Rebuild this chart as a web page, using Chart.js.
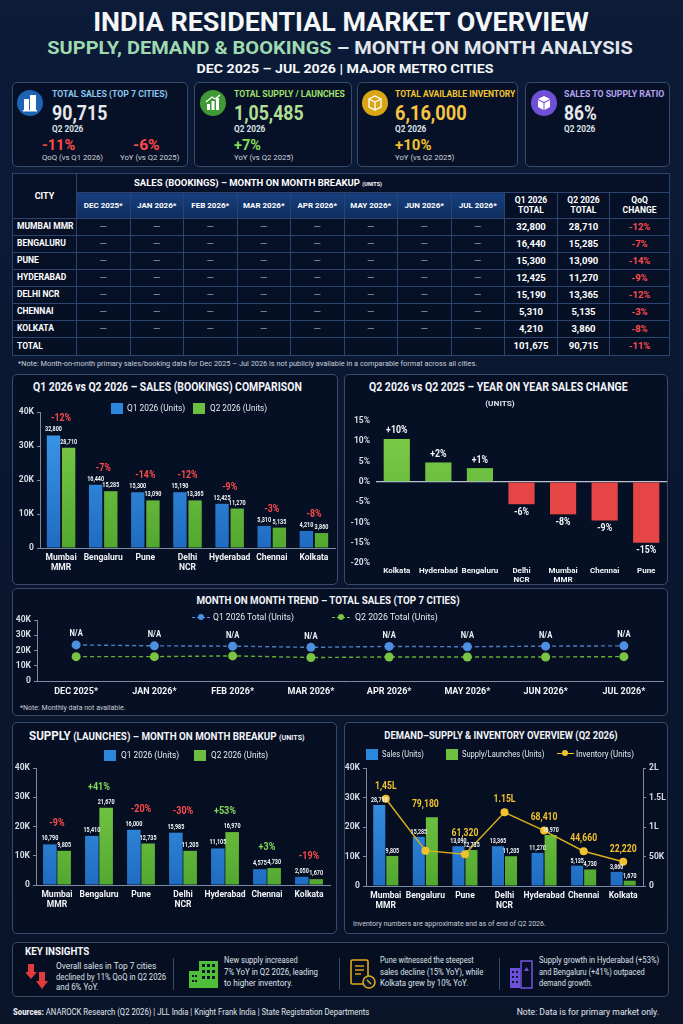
<!DOCTYPE html>
<html lang="en">
<head>
<meta charset="UTF-8">
<title>India Residential Market Overview</title>
<script src="https://cdn.jsdelivr.net/npm/chart.js"></script>
<style>
  body { margin:0; width:683px; height:1024px; position:relative; overflow:hidden;
         background:linear-gradient(180deg,#0b1b38 0%,#0a1730 50%,#091429 100%);
         font-family:Roboto,'DejaVu Sans Condensed',sans-serif; color:#fff; }
  .panel { position:absolute; border:1px solid #3a4a66; border-radius:5px; background:rgba(4,11,28,0.55); box-sizing:border-box; }
  .t { position:absolute; white-space:nowrap; line-height:1; z-index:3; }
  .box { position:absolute; z-index:2; }
  #tbl { position:absolute; left:12px; top:173px; width:657px; height:182px; border-collapse:collapse; table-layout:fixed; background:rgba(5,14,34,0.75); }
  #tbl td { border:1px solid #2e4470; color:#fff; font-weight:bold; font-size:9.5px; text-align:center; padding:0; line-height:1.15; white-space:nowrap; overflow:hidden; }
  #tbl td.city { text-align:left; padding-left:4px; font-size:8.5px; }
  #tbl td.mh { background:linear-gradient(180deg,#17407e,#0f2c5e); font-size:8px; }
  #tbl td.dash { color:#9aa4b5; font-weight:normal; }
  #tbl td.red { color:#ff4b4b; }
</style>
</head>
<body>
<script>
const FONT = "Roboto,'DejaVu Sans Condensed',sans-serif";
const BLUE = '#2b87dc', GREEN = '#6cbf3f', RED = '#e64545', RED_T = '#ff4a4a', GREEN_T = '#86d95a', GOLD = '#f2c12e', AX = '#7d8aa3';

// ---- data ----
const cities = [['Mumbai', 'MMR'], 'Bengaluru', 'Pune', ['Delhi', 'NCR'], 'Hyderabad', 'Chennai', 'Kolkata'];
const tableCities = ['MUMBAI MMR', 'BENGALURU', 'PUNE', 'HYDERABAD', 'DELHI NCR', 'CHENNAI', 'KOLKATA'];
const tableMonths = ['DEC 2025*', 'JAN 2026*', 'FEB 2026*', 'MAR 2026*', 'APR 2026*', 'MAY 2026*', 'JUN 2026*', 'JUL 2026*'];
const tableQ1 = ['32,800', '16,440', '15,300', '12,425', '15,190', '5,310', '4,210'];
const tableQ2 = ['28,710', '15,285', '13,090', '11,270', '13,365', '5,135', '3,860'];
const tableQoQ = ['-12%', '-7%', '-14%', '-9%', '-12%', '-3%', '-8%'];
const tableTotal = ['101,675', '90,715', '-11%'];

const salesQ1 = [33100, 18600, 16400, 16400, 13000, 6500, 5000];
const salesQ2 = [29500, 16700, 14000, 14000, 11600, 6000, 4400];
const salesQ1Label = ['32,800', '16,440', '15,300', '15,190', '12,425', '5,310', '4,210'];
const salesQ2Label = ['28,710', '15,285', '13,090', '13,365', '11,270', '5,135', '3,860'];
const salesQoQ = ['-12%', '-7%', '-14%', '-12%', '-9%', '-3%', '-8%'];

const yoyCities = ['Kolkata', 'Hyderabad', 'Bengaluru', ['Delhi', 'NCR'], ['Mumbai', 'MMR'], 'Chennai', 'Pune'];
const yoyChange = [10.6, 4.8, 3.4, -5.5, -8, -9.5, -15];
const yoyLabel = ['+10%', '+2%', '+1%', '-6%', '-8%', '-9%', '-15%'];

const months = ['DEC 2025*', 'JAN 2026*', 'FEB 2026*', 'MAR 2026*', 'APR 2026*', 'MAY 2026*', 'JUN 2026*', 'JUL 2026*'];
const trendQ1 = [23700, 23100, 22900, 22100, 22700, 22500, 22900, 23100];
const trendQ2 = [16000, 16000, 16500, 15400, 15800, 15800, 15800, 16000];

const supplyQ1 = [13900, 16800, 18900, 17900, 12500, 5400, 2800];
const supplyQ2 = [11700, 26400, 14200, 11700, 18100, 5800, 2000];
const supplyQ1Label = ['10,790', '15,410', '16,000', '15,985', '11,105', '4,575', '2,050'];
const supplyQ2Label = ['9,805', '21,670', '12,735', '11,205', '16,970', '4,730', '1,670'];
const supplyChange = ['-9%', '+41%', '-20%', '-30%', '+53%', '+3%', '-19%'];

const dsSales = [27500, 16700, 13500, 13500, 11250, 6900, 4800];
const dsSupply = [10200, 23300, 12200, 10100, 17300, 5600, 1800];
const dsSalesLabel = ['28,710', '15,285', '13,090', '13,365', '11,270', '5,135', '3,860'];
const dsSupplyLabel = ['9,805', '', '12,735', '11,205', '16,970', '4,730', '1,670'];
const inventory = [148000, 60000, 54000, 125000, 94000, 59000, 41000];
const inventoryLabel = ['1,45L', '79,180', '61,320', '1.15L', '68,410', '44,660', '22,220'];

// ---- helpers ----
function txt(x, y, html, size, color, o = {}) {
  const d = document.createElement('div');
  d.className = 't';
  d.innerHTML = html;
  d.style.left = x + 'px';
  d.style.top = y + 'px';
  d.style.fontSize = size + 'px';
  d.style.color = color;
  d.style.fontWeight = o.w || 'bold';
  const ax = o.a === 'c' ? '-50%' : o.a === 'r' ? '-100%' : '0';
  d.style.transform = `translate(${ax},-50%)`;
  document.body.appendChild(d);
  if (o.fit) {
    const r = o.fit / d.offsetWidth;
    d.style.transformOrigin = o.a === 'c' ? 'center' : o.a === 'r' ? 'right' : 'left';
    d.style.transform += ` scaleX(${r})`;
  }
  return d;
}
function panel(x1, y1, x2, y2) {
  const d = document.createElement('div');
  d.className = 'panel';
  d.style.cssText = `left:${x1}px;top:${y1}px;width:${x2 - x1}px;height:${y2 - y1}px`;
  document.body.appendChild(d);
}
function canvasBox(x1, y1, x2, y2) {
  const d = document.createElement('div');
  d.className = 'box';
  d.style.cssText += `left:${x1}px;top:${y1}px;width:${x2 - x1}px;height:${y2 - y1}px`;
  const c = document.createElement('canvas');
  d.appendChild(c);
  document.body.appendChild(d);
  return c;
}
function sq(x, y, color) {
  const d = document.createElement('div');
  d.style.cssText = `position:absolute;z-index:3;left:${x}px;top:${y - 5.5}px;width:12px;height:11px;background:${color}`;
  document.body.appendChild(d);
}
function lineKey(x, y, color) {
  const d = document.createElement('div');
  d.style.cssText = `position:absolute;z-index:3;left:${x}px;top:${y}px;width:18px;border-top:1.5px dashed ${color}`;
  const p = document.createElement('div');
  p.style.cssText = `position:absolute;left:6px;top:-4.5px;width:6px;height:6px;border-radius:50%;background:${color}`;
  d.appendChild(p);
  document.body.appendChild(d);
}
function icon(cx, cy, bg, svg) {
  const d = document.createElement('div');
  d.style.cssText = `position:absolute;z-index:3;left:${cx - 13}px;top:${cy - 13}px;width:26px;height:26px;border-radius:50%;background:${bg}`;
  d.innerHTML = `<svg width="26" height="26" viewBox="1 1 26 26">${svg}</svg>`;
  document.body.appendChild(d);
}
function art(x, y, w, h, svg) {
  const d = document.createElement('div');
  d.style.cssText = `position:absolute;z-index:3;left:${x}px;top:${y}px;width:${w}px;height:${h}px`;
  d.innerHTML = `<svg width="${w}" height="${h}" viewBox="0 0 ${w} ${h}">${svg}</svg>`;
  document.body.appendChild(d);
}
const kfmt = v => v === 0 ? '0' : (v / 1000) + 'K';
const signColor = t => t.startsWith('+') ? GREEN_T : RED_T;
function grad(top, bottom) {
  return c => {
    const a = c.chart.chartArea;
    if (!a) return bottom;
    const g = c.chart.ctx.createLinearGradient(0, a.top, 0, a.bottom);
    g.addColorStop(0, top);
    g.addColorStop(1, bottom);
    return g;
  };
}
const BLUE_G = grad('#3d9cec', '#1f6cc2');
const GREEN_G = grad('#80cf4b', '#52a82f');

// narrow text centred on a point
function squeezed(ctx, t, x, y, sx) {
  ctx.save();
  ctx.translate(x, y);
  ctx.scale(sx, 1);
  ctx.fillText(t, 0, 0);
  ctx.restore();
}
// labels drawn from element positions
const labelPlugin = {
  id: 'labels',
  afterDatasetsDraw(chart, args, o) {
    const ctx = chart.ctx;
    ctx.save();
    ctx.textAlign = 'center';
    ctx.textBaseline = 'middle';
    chart.data.datasets.forEach((ds, di) => {
      if (!ds.tags) return;
      const meta = chart.getDatasetMeta(di);
      ctx.font = `bold ${ds.tagSize || 8}px ${FONT}`;
      ctx.fillStyle = ds.tagColor || '#f2f4f8';
      meta.data.forEach((el, i) => {
        const t = ds.tags[i];
        if (!t) return;
        const g = ds.tagGap || 5;
        squeezed(ctx, t, el.x, ds.data[i] < 0 ? el.y + g : el.y - g, ds.tagScale || 0.68);
      });
    });
    if (o && o.texts) {
      ctx.font = `bold ${o.size}px ${FONT}`;
      o.texts.forEach((t, i) => {
        let top = Infinity;
        chart.data.datasets.forEach((ds, di) => {
          const el = chart.getDatasetMeta(di).data[i];
          if (el) top = Math.min(top, el.y);
        });
        ctx.fillStyle = typeof o.colors === 'function' ? o.colors(t) : o.colors;
        squeezed(ctx, t, chart.scales.x.getPixelForValue(i), top - o.gap, o.scale || 0.8);
      });
    }
    ctx.restore();
  }
};
Chart.register(labelPlugin);
Chart.defaults.font.family = FONT;
Chart.defaults.color = '#d7dce5';

function baseOptions(p) {
  return {
    responsive: true, maintainAspectRatio: false, animation: false,
    layout: { padding: { top: p.top, right: p.right, left: 0, bottom: 0 } },
    plugins: { legend: { display: false }, tooltip: { enabled: false }, labels: p.labels || {} },
    scales: {
      x: {
        offset: true,
        afterFit: s => { s.height = p.xH; },
        grid: { display: false, drawTicks: false },
        border: { display: true, color: AX },
        ticks: { color: '#f2f4f8', font: { size: p.xSize || 8.5, weight: 'bold' }, padding: 5, maxRotation: 0, autoSkip: false }
      },
      y: {
        min: 0, max: 40000,
        afterFit: s => { s.width = p.yW; },
        grid: { drawOnChartArea: false, drawTicks: true, tickLength: 3, color: AX },
        border: { display: true, color: AX },
        ticks: { stepSize: 10000, callback: kfmt, color: '#d7dce5', font: { size: 8.5, weight: 'bold' }, padding: 3 }
      }
    }
  };
}

// ---- header ----
txt(341, 22, 'INDIA RESIDENTIAL MARKET OVERVIEW', 25, '#f4f6f8', { a: 'c', fit: 496 });
txt(340, 47, '<span style="color:#9fd9b0">SUPPLY, DEMAND &amp; BOOKINGS</span> – MONTH ON MONTH ANALYSIS', 19, '#e2e6ec', { a: 'c', fit: 586 });
txt(345, 69, 'DEC 2025 – JUL 2026 | MAJOR METRO CITIES', 13.5, '#f4f6f8', { a: 'c', fit: 297 });

// ---- KPI cards ----
panel(12, 82, 188, 167);
panel(194, 82, 352, 167);
panel(357, 82, 518, 167);
panel(525, 82, 670, 167);

icon(30, 103, '#1f63b5', '<rect x="8" y="10" width="5" height="11" fill="#fff"/><rect x="14" y="6" width="6" height="15" fill="#fff"/><rect x="7" y="21" width="14" height="1.5" fill="#fff"/>');
txt(52, 94, 'TOTAL SALES (TOP 7 CITIES)', 9, '#8cc4ee', { fit: 116 });
txt(52, 113, '90,715', 21, '#e6e8ec', { fit: 55 });
txt(52, 129, 'Q2 2026', 8.5, '#dde1e8', { fit: 31 });
txt(42, 145, '-11%', 15, RED_T, { fit: 33 });
txt(42, 158, 'QoQ (vs Q1 2026)', 8, '#cfd4dc', { w: 'normal', fit: 61 });
txt(133, 145, '-6%', 15, RED_T, { fit: 27 });
txt(120, 158, 'YoY (vs Q2 2025)', 8, '#cfd4dc', { w: 'normal', fit: 59 });

icon(213, 103, '#3f9a35', '<rect x="8" y="15" width="3" height="6" fill="#fff"/><rect x="12.5" y="12" width="3" height="9" fill="#fff"/><rect x="17" y="9" width="3" height="12" fill="#fff"/><path d="M7 13 L13 8 L16 10 L21 6" stroke="#fff" stroke-width="1.4" fill="none"/>');
txt(234, 94, 'TOTAL SUPPLY / LAUNCHES', 9, '#9fe06d', { fit: 111 });
txt(234, 113, '1,05,485', 21, '#b2de94', { fit: 70 });
txt(234, 129, 'Q2 2026', 8.5, '#dde1e8', { fit: 31 });
txt(234, 145, '+7%', 15, GREEN_T, { fit: 27 });
txt(234, 158, 'YoY (vs Q2 2025)', 8, '#cfd4dc', { w: 'normal', fit: 59 });

icon(375, 103, '#d9a514', '<path d="M8 10 L14 7 L20 10 L20 18 L14 21 L8 18 Z M8 10 L14 13 L20 10 M14 13 L14 21" stroke="#fff" stroke-width="1.3" fill="none"/>');
txt(395, 94, 'TOTAL AVAILABLE INVENTORY', 9, '#f4c430', { fit: 120 });
txt(395, 113, '6,16,000', 21, '#f5c542', { fit: 72 });
txt(395, 129, 'Q2 2026', 8.5, '#dde1e8', { fit: 31 });
txt(395, 145, '+10%', 15, GOLD, { fit: 36 });
txt(395, 158, 'YoY (vs Q2 2025)', 8, '#cfd4dc', { w: 'normal', fit: 59 });

icon(544, 103, '#6f4fd6', '<path d="M8 10 L14 7 L20 10 L14 13 Z" fill="#fff"/><path d="M8 11 L13.5 14 L13.5 21 L8 18 Z M20 11 L14.5 14 L14.5 21 L20 18 Z" fill="#fff"/>');
txt(564, 94, 'SALES TO SUPPLY RATIO', 9, '#b7a4ef', { fit: 100 });
txt(564, 113, '86%', 21, '#e6e8ec', { fit: 33 });
txt(564, 129, 'Q2 2026', 8.5, '#dde1e8', { fit: 31 });

// ---- table ----
(function () {
  const widths = [64].concat(tableMonths.map(() => 53.5)).concat([53, 52, 60]);
  let h = '<table id="tbl"><colgroup>' + widths.map(w => `<col style="width:${w}px">`).join('') + '</colgroup>';
  h += '<tr style="height:19px"><td rowspan="2" style="font-size:9px">CITY</td>' +
       '<td colspan="11" style="text-align:left;padding-left:57px;font-size:9.5px">SALES (BOOKINGS) – MONTH ON MONTH BREAKUP <span style="font-size:5.5px">(UNITS)</span></td></tr>';
  h += '<tr style="height:26px">' + tableMonths.map(m => `<td class="mh">${m}</td>`).join('') +
       '<td style="font-size:8.5px">Q1 2026<br>TOTAL</td><td style="font-size:8.5px">Q2 2026<br>TOTAL</td><td style="font-size:8.5px">QoQ<br>CHANGE</td></tr>';
  tableCities.forEach((c, i) => {
    h += `<tr style="height:17px"><td class="city">${c}</td>` + tableMonths.map(() => '<td class="dash">—</td>').join('') +
         `<td>${tableQ1[i]}</td><td>${tableQ2[i]}</td><td class="red">${tableQoQ[i]}</td></tr>`;
  });
  h += '<tr style="height:18px"><td class="city">TOTAL</td>' + tableMonths.map(() => '<td></td>').join('') +
       `<td>${tableTotal[0]}</td><td>${tableTotal[1]}</td><td class="red">${tableTotal[2]}</td></tr></table>`;
  document.body.insertAdjacentHTML('beforeend', h);
})();
txt(18, 364, '*Note: Month-on-month primary sales/booking data for Dec 2025 – Jul 2026 is not publicly available in a comparable format across all cities.', 7.5, '#c9ced8', { w: 'normal', fit: 459 });

// ---- panels ----
panel(12, 374, 338, 585);
panel(344, 374, 668, 585);
panel(12, 588, 668, 716);
panel(12, 722, 337, 934);
panel(344, 722, 668, 934);
panel(12, 942, 669, 997);

// ---- chart 1: Q1 vs Q2 sales ----
txt(33, 387, 'Q1 2026 vs Q2 2026 – SALES (BOOKINGS) COMPARISON', 12, '#f2f4f8', { fit: 269 });
sq(111, 408, BLUE); txt(127, 408, 'Q1 2026 (Units)', 9.5, '#e6e9ef', { w: 'normal', fit: 58 });
sq(193, 408, GREEN); txt(210, 408, 'Q2 2026 (Units)', 9.5, '#e6e9ef', { w: 'normal', fit: 57 });
new Chart(canvasBox(12, 400, 338, 582), {
  type: 'bar',
  data: {
    labels: cities,
    datasets: [
      { data: salesQ1, backgroundColor: BLUE_G, categoryPercentage: 0.72, barPercentage: 0.88, tags: salesQ1Label, tagGap: 6 },
      { data: salesQ2, backgroundColor: GREEN_G, categoryPercentage: 0.72, barPercentage: 0.88, tags: salesQ2Label, tagGap: 6 }
    ]
  },
  options: baseOptions({ top: 12, right: 3, xH: 34, yW: 28, labels: { texts: salesQoQ, colors: RED_T, size: 11, gap: 17, scale: 0.8 } })
});

// ---- chart 2: YoY change ----
txt(369, 387, 'Q2 2026 vs Q2 2025 – YEAR ON YEAR SALES CHANGE', 12, '#f2f4f8', { fit: 259 });
txt(500, 404, '(UNITS)', 8, '#dde1e8', { a: 'c', fit: 30 });
(function () {
  const o = baseOptions({ top: 8, right: 1, xH: 23, yW: 32, xSize: 8 });
  o.scales.x.border.display = false;
  o.scales.x.ticks.padding = 3;
  o.scales.y.min = -20; o.scales.y.max = 15;
  o.scales.y.ticks.stepSize = 5;
  o.scales.y.ticks.callback = v => v + '%';
  o.scales.y.border.display = false;
  o.scales.y.grid = { drawOnChartArea: true, drawTicks: false, lineWidth: 1.2, color: c => c.tick && c.tick.value === 0 ? '#b9c2d0' : 'rgba(0,0,0,0)' };
  o.scales.y.ticks.padding = 6;
  new Chart(canvasBox(344, 410, 668, 586), {
    type: 'bar',
    data: {
      labels: yoyCities,
      datasets: [{
        data: yoyChange,
        backgroundColor: c => yoyChange[c.dataIndex] >= 0 ? GREEN_G(c) : RED,
        categoryPercentage: 0.7, barPercentage: 0.9, tags: yoyLabel, tagGap: 8, tagSize: 10, tagScale: 0.88
      }]
    },
    options: o
  });
})();

// ---- chart 3: monthly trend ----
txt(328, 600, 'MONTH ON MONTH TREND – TOTAL SALES (TOP 7 CITIES)', 11, '#f2f4f8', { a: 'c', fit: 263 });
lineKey(192, 617, '#4d8fe0'); txt(213, 617, 'Q1 2026 Total (Units)', 9, '#e6e9ef', { w: 'normal', fit: 81 });
lineKey(332, 617, '#79c443'); txt(355, 617, 'Q2 2026 Total (Units)', 9, '#e6e9ef', { w: 'normal', fit: 83 });
(function () {
  const o = baseOptions({ top: 5, right: 5, xH: 21, yW: 25, xSize: 9 });
  new Chart(canvasBox(12, 612, 668, 702), {
    type: 'line',
    data: {
      labels: months,
      datasets: [
        { data: trendQ1, borderColor: '#4d7fc8', borderDash: [4, 3], borderWidth: 1.4, pointRadius: 4.5, pointBackgroundColor: '#4d8fe0', pointBorderWidth: 0, tags: months.map(() => 'N/A'), tagGap: 11, tagSize: 9.5, tagScale: 0.8 },
        { data: trendQ2, borderColor: '#66b030', borderDash: [4, 3], borderWidth: 1.4, pointRadius: 4.5, pointBackgroundColor: '#79c443', pointBorderWidth: 0 }
      ]
    },
    options: o
  });
})();
txt(20, 708, '*Note: Monthly data not available.', 7.5, '#c9ced8', { w: 'normal', fit: 106 });

// ---- chart 4: supply ----
txt(29, 735, '<span style="font-size:13px">SUPPLY</span> (LAUNCHES) – MONTH ON MONTH BREAKUP <span style="font-size:8px">(UNITS)</span>', 11, '#f2f4f8', { fit: 276 });
sq(104, 755, BLUE); txt(121, 755, 'Q1 2026 (Units)', 9.5, '#e6e9ef', { w: 'normal', fit: 58 });
sq(194, 755, GREEN); txt(211, 755, 'Q2 2026 (Units)', 9.5, '#e6e9ef', { w: 'normal', fit: 57 });
new Chart(canvasBox(12, 760, 337, 933), {
  type: 'bar',
  data: {
    labels: cities,
    datasets: [
      { data: supplyQ1, backgroundColor: BLUE_G, categoryPercentage: 0.68, barPercentage: 0.95, tags: supplyQ1Label, tagGap: 6 },
      { data: supplyQ2, backgroundColor: GREEN_G, categoryPercentage: 0.68, barPercentage: 0.95, tags: supplyQ2Label, tagGap: 6 }
    ]
  },
  options: baseOptions({ top: 7, right: 7, xH: 48, yW: 24, labels: { texts: supplyChange, colors: signColor, size: 11, gap: 21, scale: 0.82 } })
});

// ---- chart 5: demand-supply & inventory ----
txt(501, 735, 'DEMAND–SUPPLY &amp; INVENTORY OVERVIEW (Q2 2026)', 11, '#f2f4f8', { a: 'c', fit: 233 });
sq(366, 754, BLUE); txt(382, 754, 'Sales (Units)', 9, '#e6e9ef', { w: 'normal', fit: 42 });
sq(446, 754, GREEN); txt(462, 754, 'Supply/Launches (Units)', 9, '#e6e9ef', { w: 'normal', fit: 82 });
(function () {
  const d = document.createElement('div');
  d.style.cssText = 'position:absolute;z-index:3;left:557px;top:753px;width:17px;border-top:1.5px solid ' + GOLD;
  d.innerHTML = '<div style="position:absolute;left:5px;top:-4.5px;width:6px;height:6px;border-radius:50%;background:' + GOLD + '"></div>';
  document.body.appendChild(d);
})();
txt(576, 754, 'Inventory (Units)', 9, '#e6e9ef', { w: 'normal', fit: 58 });
(function () {
  const o = baseOptions({ top: 8, right: 0, xH: 32, yW: 22, labels: { texts: inventoryLabel, colors: GOLD, size: 11.5, gap: 13, scale: 0.75 } });
  o.scales.y2 = {
    position: 'right', min: 0, max: 200000,
    afterFit: s => { s.width = 25; },
    grid: { drawOnChartArea: false, drawTicks: true, tickLength: 3, color: AX },
    border: { display: true, color: AX },
    ticks: { stepSize: 50000, callback: v => v === 0 ? '0' : v >= 100000 ? (v / 100000) + 'L' : (v / 1000) + 'K', color: '#d7dce5', font: { size: 8.5, weight: 'bold' }, padding: 3 }
  };
  new Chart(canvasBox(344, 760, 668, 918), {
    type: 'bar',
    data: {
      labels: cities,
      datasets: [
        { type: 'line', data: inventory, yAxisID: 'y2', order: 0, borderColor: '#d9ad1c', borderWidth: 1.5, pointRadius: 4, pointBackgroundColor: GOLD, pointBorderWidth: 0 },
        { data: dsSales, backgroundColor: BLUE_G, order: 1, categoryPercentage: 0.66, barPercentage: 0.92, tags: dsSalesLabel, tagGap: 5, tagSize: 8, tagScale: 0.66 },
        { data: dsSupply, backgroundColor: GREEN_G, order: 1, categoryPercentage: 0.66, barPercentage: 0.92, tags: dsSupplyLabel, tagGap: 5, tagSize: 8, tagScale: 0.66 }
      ]
    },
    options: o
  });
})();
txt(353, 924, 'Inventory numbers are approximate and as of end of Q2 2026.', 7.5, '#c9ced8', { w: 'normal', fit: 193 });

// ---- key insights ----
txt(25, 951, 'KEY INSIGHTS', 11, '#f4f6f8', { fit: 64 });
art(26, 964, 22, 26, '<path d="M2 0 h6 v8 h3 l-6 7 l-6 -7 h3 z" fill="#e23b3b"/><path d="M13 8 h6 v9 h3 l-6 8 l-6 -8 h3 z" fill="#e23b3b"/>');
txt(56, 966, 'Overall sales in Top 7 cities', 8.5, '#dde1e8', { w: 'normal', fit: 100 });
txt(56, 977, 'declined by 11% QoQ in Q2 2026', 8.5, '#dde1e8', { w: 'normal', fit: 110 });
txt(56, 987, 'and 6% YoY.', 8.5, '#dde1e8', { w: 'normal', fit: 42 });
art(189, 959, 30, 29, '<rect x="0" y="12" width="11" height="17" fill="#4fbf3a"/><rect x="10" y="2" width="19" height="27" fill="#4fbf3a"/><g fill="#0a1730"><rect x="13" y="5" width="3" height="3"/><rect x="18" y="5" width="3" height="3"/><rect x="23" y="5" width="3" height="3"/><rect x="13" y="11" width="3" height="3"/><rect x="18" y="11" width="3" height="3"/><rect x="23" y="11" width="3" height="3"/><rect x="13" y="17" width="3" height="3"/><rect x="18" y="17" width="3" height="3"/><rect x="23" y="17" width="3" height="3"/><rect x="3" y="16" width="2" height="2"/><rect x="6" y="16" width="2" height="2"/><rect x="3" y="21" width="2" height="2"/><rect x="6" y="21" width="2" height="2"/></g>');
txt(224, 960, 'New supply increased', 8.5, '#dde1e8', { w: 'normal', fit: 74 });
txt(224, 972, '7% YoY in Q2 2026, leading', 8.5, '#dde1e8', { w: 'normal', fit: 94 });
txt(224, 983, 'to higher inventory.', 8.5, '#dde1e8', { w: 'normal', fit: 69 });
art(350, 959, 26, 30, '<rect x="1" y="1" width="17" height="24" rx="1.5" fill="none" stroke="#e0a91c" stroke-width="1.6"/><g stroke="#e0a91c" stroke-width="1.4"><line x1="5" y1="7" x2="14" y2="7"/><line x1="5" y1="11" x2="14" y2="11"/><line x1="5" y1="15" x2="11" y2="15"/></g><circle cx="19" cy="23" r="6" fill="#0a1730" stroke="#e0a91c" stroke-width="1.6"/><path d="M17 21 l4 4" stroke="#e0a91c" stroke-width="1.4"/>');
txt(380, 960, 'Pune witnessed the steepest', 8.5, '#dde1e8', { w: 'normal', fit: 94 });
txt(380, 972, 'sales decline (15% YoY), while', 8.5, '#dde1e8', { w: 'normal', fit: 103 });
txt(380, 983, 'Kolkata grew by 10% YoY.', 8.5, '#dde1e8', { w: 'normal', fit: 88 });
art(509, 959, 26, 30, '<rect x="1" y="9" width="10" height="20" fill="#6e4fd8"/><rect x="12" y="2" width="11" height="27" fill="none" stroke="#6e4fd8" stroke-width="1.6"/><g fill="#0a1730"><rect x="3" y="12" width="2" height="2"/><rect x="7" y="12" width="2" height="2"/><rect x="3" y="17" width="2" height="2"/><rect x="7" y="17" width="2" height="2"/><rect x="3" y="22" width="2" height="2"/><rect x="7" y="22" width="2" height="2"/></g><path d="M17.5 8 l-2.5 4 h5 z" fill="#6e4fd8"/>');
txt(539, 960, 'Supply growth in Hyderabad (+53%)', 8.5, '#dde1e8', { w: 'normal', fit: 120 });
txt(539, 972, 'and Bengaluru (+41%) outpaced', 8.5, '#dde1e8', { w: 'normal', fit: 106 });
txt(539, 983, 'demand growth.', 8.5, '#dde1e8', { w: 'normal', fit: 53 });
(function () {
  [173, 339, 499].forEach(x => {
    const d = document.createElement('div');
    d.style.cssText = `position:absolute;z-index:3;left:${x}px;top:958px;width:1px;height:32px;background:#3a4a66`;
    document.body.appendChild(d);
  });
})();

// ---- footer ----
txt(13, 1012, '<b>Sources:</b> <span style="font-weight:normal">ANAROCK Research (Q2 2026) | JLL India | Knight Frank India | State Registration Departments</span>', 8.5, '#e2e6ec', { fit: 356 });
txt(659, 1012, 'Note: Data is for primary market only.', 8.5, '#e2e6ec', { w: 'normal', a: 'r', fit: 142 });
</script>
</body>
</html>
